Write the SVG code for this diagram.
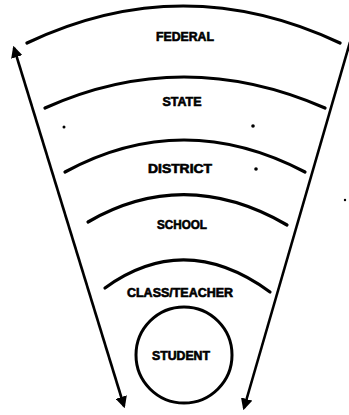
<svg xmlns="http://www.w3.org/2000/svg" width="349" height="415" viewBox="0 0 349 415">
<defs>
<style>
.arc{fill:none;stroke:#000;stroke-width:3.2;stroke-linecap:round}
.ln{fill:none;stroke:#000;stroke-width:2.6}
.lbl{font-family:"Liberation Sans",Arial,sans-serif;font-weight:bold;font-size:12px;fill:#000;stroke:#000;stroke-width:0.6;text-anchor:middle}
</style>
<marker id="ah" viewBox="0 0 10 10" refX="8" refY="5" markerWidth="4.5" markerHeight="4.5" orient="auto-start-reverse">
<path d="M0 0 L10 5 L0 10 Z" fill="#000"/>
</marker>
</defs>
<rect width="349" height="415" fill="#fff"/>
<g id="connectors">
<line class="ln" x1="14" y1="48" x2="124" y2="406" marker-start="url(#ah)" marker-end="url(#ah)"/>
<line class="ln" x1="350" y1="42" x2="244" y2="408" marker-end="url(#ah)"/>
</g>
<g id="federal">
<path class="arc" d="M27 43 Q183 -31 340 43"/>
<text class="lbl" x="185" y="41" textLength="58" lengthAdjust="spacingAndGlyphs">FEDERAL</text>
</g>
<g id="state">
<path class="arc" d="M45 108 Q183 46 325 108"/>
<text class="lbl" x="182" y="106" textLength="39" lengthAdjust="spacingAndGlyphs">STATE</text>
</g>
<g id="district">
<path class="arc" d="M65 172 Q183 108 305 172"/>
<text class="lbl" x="180" y="173" textLength="64" lengthAdjust="spacingAndGlyphs">DISTRICT</text>
</g>
<g id="school">
<path class="arc" d="M88 222 Q185 166 287 225"/>
<text class="lbl" x="182" y="229" textLength="50" lengthAdjust="spacingAndGlyphs">SCHOOL</text>
</g>
<g id="class-teacher">
<path class="arc" d="M105 288 Q185 230 270 292"/>
<text class="lbl" x="180" y="297" textLength="106" lengthAdjust="spacingAndGlyphs">CLASS/TEACHER</text>
</g>
<g id="student">
<circle cx="184" cy="355" r="48" fill="none" stroke="#000" stroke-width="3"/>
<text class="lbl" x="181" y="360" textLength="58" lengthAdjust="spacingAndGlyphs">STUDENT</text>
</g>
<g id="specks" fill="#000">
<circle cx="64" cy="127" r="1.5"/>
<circle cx="253" cy="126" r="1.8"/>
<circle cx="256" cy="169" r="1.8"/>
<circle cx="345" cy="200" r="1.2"/>
</g>
</svg>
